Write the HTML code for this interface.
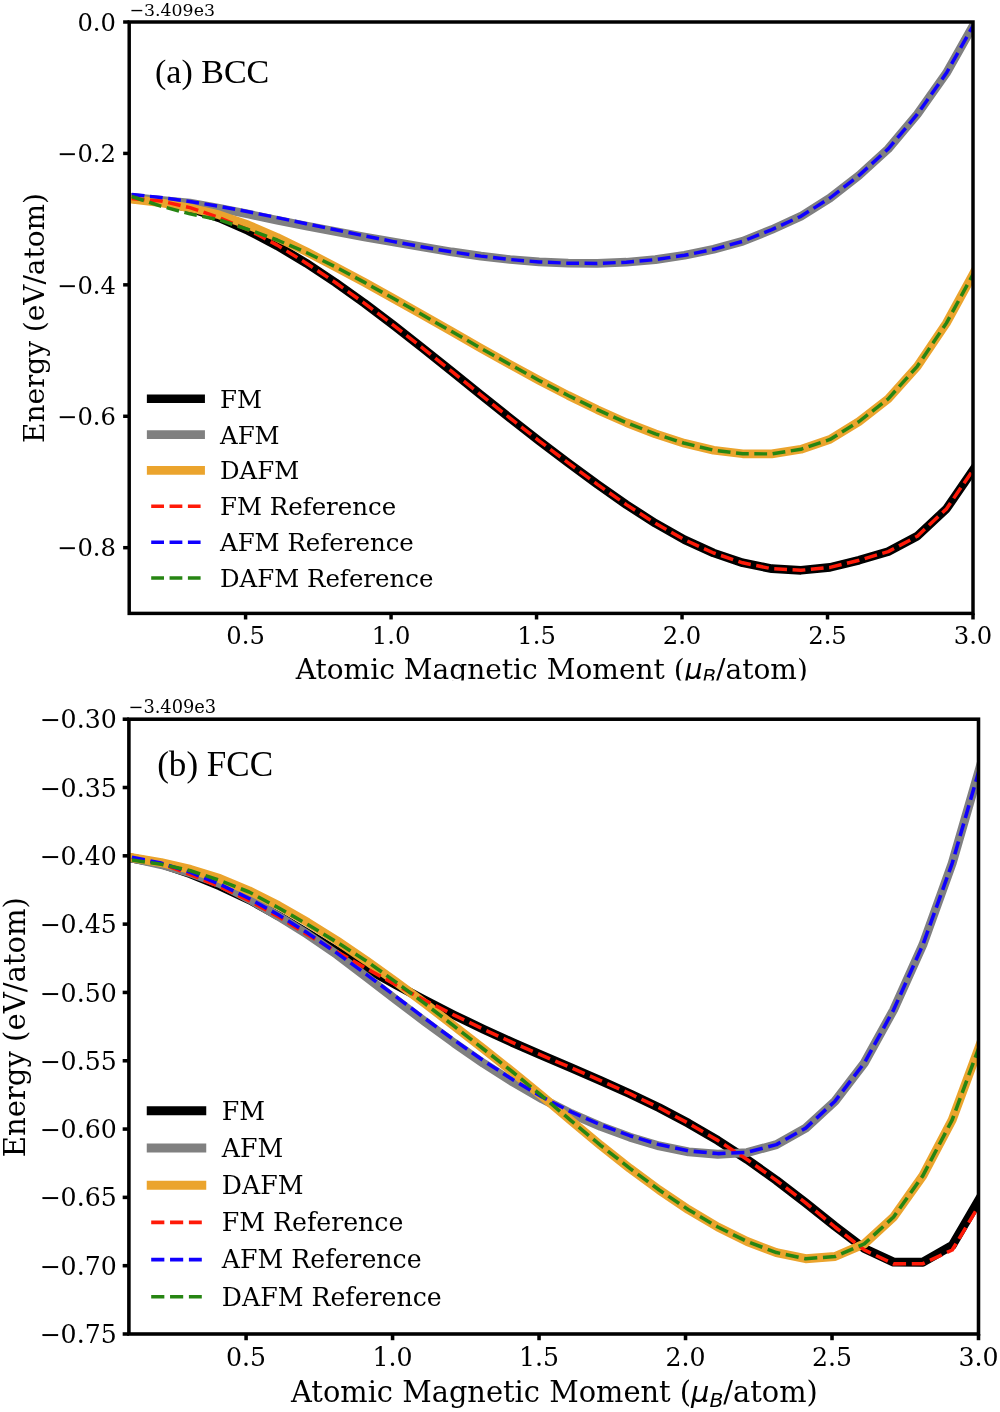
<!DOCTYPE html>
<html lang="en">
<head>
<meta charset="utf-8">
<title>Energy vs atomic magnetic moment: BCC and FCC</title>
<style>
html,body{margin:0;padding:0;background:#fff}
svg{display:block}
text{font-family:"DejaVu Serif","Liberation Serif",serif;fill:#000}
.ttl{font-family:"Liberation Serif","DejaVu Serif",serif}
</style>
</head>
<body>
<svg width="1000" height="1412" viewBox="0 0 1000 1412">
<defs>
<clipPath id="c1"><rect x="129.2" y="22.0" width="843.80" height="591.40"/></clipPath>
<clipPath id="c2"><rect x="128.9" y="719.2" width="849.60" height="614.80"/></clipPath>
</defs>
<rect width="1000" height="1412" fill="#fff"/>
<!-- panel (a) BCC -->
<g id="panel-a">
<g clip-path="url(#c1)" fill="none" stroke-linejoin="round">
<polyline points="131.7,198.6 160.8,201.5 189.9,208.1 219.0,217.9 248.1,230.6 277.2,245.8 306.3,263.2 335.4,282.5 364.5,303.3 393.6,325.3 422.7,348.1 451.8,371.4 480.9,394.9 510.0,418.1 539.1,440.8 568.2,462.9 597.3,484.3 626.3,504.6 655.4,523.3 684.5,539.7 713.6,553.0 742.7,562.8 771.8,568.7 800.9,570.3 830.0,567.4 859.1,560.2 888.2,551.6 917.3,536.2 946.4,508.9 975.5,466.5" stroke="#000000" stroke-width="8.67" stroke-linecap="square"/>
<polyline points="131.7,197.3 160.8,200.4 189.9,203.0 219.0,208.3 248.1,214.1 277.2,220.2 306.3,226.0 335.4,231.4 364.5,236.9 393.6,242.1 422.7,247.0 451.8,251.9 480.9,256.1 510.0,259.5 539.1,261.9 568.2,263.2 597.3,263.4 626.3,262.2 655.4,259.6 684.5,255.3 713.6,249.3 742.7,241.3 771.8,229.6 800.9,216.3 830.0,198.0 859.1,175.4 888.2,148.9 917.3,114.2 946.4,73.1 975.5,21.5" stroke="#808080" stroke-width="8.67" stroke-linecap="square"/>
<polyline points="131.7,199.1 160.8,202.7 189.9,207.9 219.0,214.8 248.1,224.9 277.2,237.5 306.3,251.7 335.4,266.8 364.5,282.4 393.6,298.6 422.7,315.0 451.8,331.6 480.9,348.2 510.0,364.5 539.1,380.4 568.2,395.5 597.3,409.7 626.3,422.6 655.4,433.9 684.5,443.3 713.6,450.2 742.7,453.8 771.8,453.9 800.9,449.3 830.0,439.4 859.1,421.5 888.2,398.9 917.3,366.3 946.4,323.1 975.5,269.8" stroke="#eba42d" stroke-width="8.67" stroke-linecap="square"/>
<polyline points="131.7,198.6 160.8,201.0 189.9,207.6 219.0,217.5 248.1,229.8 277.2,245.1 306.3,263.2 335.4,282.5 364.5,303.3 393.6,325.3 422.7,348.1 451.8,371.4 480.9,394.9 510.0,418.1 539.1,440.8 568.2,462.9 597.3,484.3 626.3,504.6 655.4,523.3 684.5,539.7 713.6,553.0 742.7,562.8 771.8,568.7 800.9,570.3 830.0,567.4 859.1,560.2 888.2,551.6 917.3,536.2 946.4,508.9 975.5,466.5" stroke="#ff1a08" stroke-width="3.47" stroke-dasharray="12.80 5.55"/>
<polyline points="131.7,194.5 160.8,197.5 189.9,201.5 219.0,206.3 248.1,211.7 277.2,217.6 306.3,223.7 335.4,229.8 364.5,235.9 393.6,241.6 422.7,247.0 451.8,251.9 480.9,256.1 510.0,259.5 539.1,261.9 568.2,263.2 597.3,263.4 626.3,262.2 655.4,259.6 684.5,255.3 713.6,249.3 742.7,241.3 771.8,229.6 800.9,216.3 830.0,198.0 859.1,175.4 888.2,148.9 917.3,114.2 946.4,73.1 975.5,21.5" stroke="#1000ff" stroke-width="3.47" stroke-dasharray="12.80 5.55"/>
<polyline points="131.7,196.5 160.8,206.1 189.9,213.9 219.0,219.8 248.1,229.5 277.2,240.0 306.3,252.5 335.4,266.8 364.5,282.4 393.6,298.6 422.7,315.0 451.8,331.6 480.9,348.2 510.0,364.5 539.1,380.4 568.2,395.5 597.3,409.7 626.3,422.6 655.4,433.9 684.5,443.3 713.6,450.2 742.7,453.8 771.8,453.9 800.9,449.3 830.0,439.4 859.1,421.5 888.2,398.9 917.3,366.3 946.4,323.1 975.5,269.8" stroke="#268512" stroke-width="3.47" stroke-dasharray="12.80 5.55"/>
</g>
<rect x="129.2" y="22.0" width="843.80" height="591.40" fill="none" stroke="#000" stroke-width="3.47"/>
<line x1="245.59" x2="245.59" y1="613.4" y2="619.47" stroke="#000" stroke-width="3.47"/>
<text x="245.59" y="644.30" font-size="24.26" text-anchor="middle">0.5</text>
<line x1="391.07" x2="391.07" y1="613.4" y2="619.47" stroke="#000" stroke-width="3.47"/>
<text x="391.07" y="644.30" font-size="24.26" text-anchor="middle">1.0</text>
<line x1="536.55" x2="536.55" y1="613.4" y2="619.47" stroke="#000" stroke-width="3.47"/>
<text x="536.55" y="644.30" font-size="24.26" text-anchor="middle">1.5</text>
<line x1="682.03" x2="682.03" y1="613.4" y2="619.47" stroke="#000" stroke-width="3.47"/>
<text x="682.03" y="644.30" font-size="24.26" text-anchor="middle">2.0</text>
<line x1="827.52" x2="827.52" y1="613.4" y2="619.47" stroke="#000" stroke-width="3.47"/>
<text x="827.52" y="644.30" font-size="24.26" text-anchor="middle">2.5</text>
<line x1="973.00" x2="973.00" y1="613.4" y2="619.47" stroke="#000" stroke-width="3.47"/>
<text x="973.00" y="644.30" font-size="24.26" text-anchor="middle">3.0</text>
<line x1="123.13" x2="129.2" y1="22.00" y2="22.00" stroke="#000" stroke-width="3.47"/>
<text x="116.00" y="30.80" font-size="24.26" text-anchor="end">0.0</text>
<line x1="123.13" x2="129.2" y1="153.42" y2="153.42" stroke="#000" stroke-width="3.47"/>
<text x="116.00" y="162.22" font-size="24.26" text-anchor="end">−0.2</text>
<line x1="123.13" x2="129.2" y1="284.84" y2="284.84" stroke="#000" stroke-width="3.47"/>
<text x="116.00" y="293.64" font-size="24.26" text-anchor="end">−0.4</text>
<line x1="123.13" x2="129.2" y1="416.27" y2="416.27" stroke="#000" stroke-width="3.47"/>
<text x="116.00" y="425.07" font-size="24.26" text-anchor="end">−0.6</text>
<line x1="123.13" x2="129.2" y1="547.69" y2="547.69" stroke="#000" stroke-width="3.47"/>
<text x="116.00" y="556.49" font-size="24.26" text-anchor="end">−0.8</text>
<text x="129.5" y="16.2" font-size="17.33">−3.409e3</text>
<text class="ttl" x="155.0" y="82.5" font-size="34.0">(a) BCC</text>
<line x1="151.2" x2="200.6" y1="398.75" y2="398.75" stroke="#000000" stroke-width="8.67" stroke-linecap="square"/>
<text x="220.0" y="407.75" font-size="24.45">FM</text>
<line x1="151.2" x2="200.6" y1="434.60" y2="434.60" stroke="#808080" stroke-width="8.67" stroke-linecap="square"/>
<text x="220.0" y="443.60" font-size="24.45">AFM</text>
<line x1="151.2" x2="200.6" y1="470.45" y2="470.45" stroke="#eba42d" stroke-width="8.67" stroke-linecap="square"/>
<text x="220.0" y="479.45" font-size="24.45">DAFM</text>
<line x1="151.2" x2="200.6" y1="506.30" y2="506.30" stroke="#ff1a08" stroke-width="3.47" stroke-dasharray="12.80 5.55"/>
<text x="220.0" y="515.30" font-size="24.45">FM Reference</text>
<line x1="151.2" x2="200.6" y1="542.15" y2="542.15" stroke="#1000ff" stroke-width="3.47" stroke-dasharray="12.80 5.55"/>
<text x="220.0" y="551.15" font-size="24.45">AFM Reference</text>
<line x1="151.2" x2="200.6" y1="578.00" y2="578.00" stroke="#268512" stroke-width="3.47" stroke-dasharray="12.80 5.55"/>
<text x="220.0" y="587.00" font-size="24.45">DAFM Reference</text>
<text transform="translate(44.4 318.0) rotate(-90)" font-size="27.95" text-anchor="middle">Energy (eV/atom)</text>
<text x="551.8" y="679.3" font-size="28.05" text-anchor="middle">Atomic Magnetic Moment (<tspan font-family="'DejaVu Sans', sans-serif" font-style="italic">μ</tspan><tspan font-family="'DejaVu Sans', sans-serif" font-style="italic" font-size="19.63" dy="3.93">B</tspan><tspan dy="-3.93">/atom)</tspan></text>
<rect x="0" y="680.5" width="1000" height="18" fill="#fff"/>
</g>
<!-- panel (b) FCC -->
<g id="panel-b">
<g clip-path="url(#c2)" fill="none" stroke-linejoin="round">
<polyline points="131.9,858.2 161.2,863.7 190.5,873.9 219.8,885.9 249.1,899.7 278.4,915.8 307.7,933.3 337.0,951.2 366.3,968.4 395.6,984.7 424.9,1000.3 454.1,1015.1 483.4,1029.2 512.7,1042.6 542.0,1055.4 571.3,1067.9 600.6,1080.6 629.9,1093.7 659.2,1107.8 688.5,1123.3 717.8,1140.4 747.1,1159.5 776.4,1180.4 805.7,1202.9 835.0,1226.3 864.3,1248.5 893.6,1262.1 922.9,1262.2 952.2,1245.4 981.5,1195.3" stroke="#000000" stroke-width="8.90" stroke-linecap="square"/>
<polyline points="131.9,858.1 161.2,864.6 190.5,873.1 219.8,883.5 249.1,899.0 278.4,916.3 307.7,934.6 337.0,954.6 366.3,976.9 395.6,999.5 424.9,1021.6 454.1,1043.0 483.4,1063.3 512.7,1081.9 542.0,1098.8 571.3,1113.7 600.6,1126.3 629.9,1137.2 659.2,1145.9 688.5,1151.9 717.8,1154.2 747.1,1152.6 776.4,1144.6 805.7,1128.1 835.0,1101.2 864.3,1063.0 893.6,1009.8 922.9,944.7 952.2,863.3 981.5,762.0" stroke="#808080" stroke-width="8.90" stroke-linecap="square"/>
<polyline points="131.9,857.7 161.2,862.7 190.5,869.4 219.8,878.6 249.1,890.8 278.4,905.5 307.7,922.4 337.0,940.8 366.3,960.7 395.6,981.6 424.9,1003.4 454.1,1025.9 483.4,1048.8 512.7,1072.0 542.0,1096.0 571.3,1120.9 600.6,1145.3 629.9,1168.4 659.2,1190.0 688.5,1209.7 717.8,1227.0 747.1,1241.5 776.4,1252.6 805.7,1258.7 835.0,1256.5 864.3,1243.9 893.6,1217.0 922.9,1175.6 952.2,1119.9 981.5,1040.6" stroke="#eba42d" stroke-width="8.90" stroke-linecap="square"/>
<polyline points="131.9,858.2 161.2,863.7 190.5,874.6 219.8,886.7 249.1,900.7 278.4,916.6 307.7,934.8 337.0,951.7 366.3,968.4 395.6,984.7 424.9,1000.3 454.1,1015.1 483.4,1029.2 512.7,1042.6 542.0,1055.4 571.3,1067.9 600.6,1080.6 629.9,1093.7 659.2,1107.8 688.5,1123.3 717.8,1140.4 747.1,1159.5 776.4,1180.4 805.7,1202.9 835.0,1227.0 864.3,1249.9 893.6,1263.9 922.9,1263.7 952.2,1250.0 981.5,1201.5" stroke="#ff1a08" stroke-width="3.56" stroke-dasharray="13.15 5.70"/>
<polyline points="131.9,857.3 161.2,863.1 190.5,872.3 219.8,884.3 249.1,898.5 278.4,914.8 307.7,933.1 337.0,953.1 366.3,974.4 395.6,996.3 424.9,1018.4 454.1,1040.0 483.4,1060.6 512.7,1079.6 542.0,1096.9 571.3,1111.9 600.6,1124.8 629.9,1135.7 659.2,1144.6 688.5,1150.9 717.8,1153.6 747.1,1152.3 776.4,1144.6 805.7,1128.1 835.0,1101.2 864.3,1063.0 893.6,1009.8 922.9,944.7 952.2,863.3 981.5,762.0" stroke="#1000ff" stroke-width="3.56" stroke-dasharray="13.15 5.70"/>
<polyline points="131.9,860.0 161.2,864.3 190.5,870.7 219.8,880.4 249.1,892.0 278.4,907.8 307.7,924.5 337.0,942.3 366.3,960.9 395.6,981.9 424.9,1003.6 454.1,1026.1 483.4,1049.0 512.7,1072.0 542.0,1096.0 571.3,1120.9 600.6,1145.3 629.9,1168.4 659.2,1190.0 688.5,1209.7 717.8,1227.0 747.1,1241.5 776.4,1252.6 805.7,1258.7 835.0,1256.5 864.3,1243.9 893.6,1217.0 922.9,1175.6 952.2,1119.9 981.5,1040.6" stroke="#268512" stroke-width="3.56" stroke-dasharray="13.15 5.70"/>
</g>
<rect x="128.9" y="719.2" width="849.60" height="614.80" fill="none" stroke="#000" stroke-width="3.56"/>
<line x1="246.09" x2="246.09" y1="1334.0" y2="1340.23" stroke="#000" stroke-width="3.56"/>
<text x="246.09" y="1365.80" font-size="25.2" text-anchor="middle">0.5</text>
<line x1="392.57" x2="392.57" y1="1334.0" y2="1340.23" stroke="#000" stroke-width="3.56"/>
<text x="392.57" y="1365.80" font-size="25.2" text-anchor="middle">1.0</text>
<line x1="539.05" x2="539.05" y1="1334.0" y2="1340.23" stroke="#000" stroke-width="3.56"/>
<text x="539.05" y="1365.80" font-size="25.2" text-anchor="middle">1.5</text>
<line x1="685.53" x2="685.53" y1="1334.0" y2="1340.23" stroke="#000" stroke-width="3.56"/>
<text x="685.53" y="1365.80" font-size="25.2" text-anchor="middle">2.0</text>
<line x1="832.02" x2="832.02" y1="1334.0" y2="1340.23" stroke="#000" stroke-width="3.56"/>
<text x="832.02" y="1365.80" font-size="25.2" text-anchor="middle">2.5</text>
<line x1="978.50" x2="978.50" y1="1334.0" y2="1340.23" stroke="#000" stroke-width="3.56"/>
<text x="978.50" y="1365.80" font-size="25.2" text-anchor="middle">3.0</text>
<line x1="122.67" x2="128.9" y1="719.20" y2="719.20" stroke="#000" stroke-width="3.56"/>
<text x="116.70" y="728.30" font-size="25.2" text-anchor="end">−0.30</text>
<line x1="122.67" x2="128.9" y1="787.51" y2="787.51" stroke="#000" stroke-width="3.56"/>
<text x="116.70" y="796.61" font-size="25.2" text-anchor="end">−0.35</text>
<line x1="122.67" x2="128.9" y1="855.82" y2="855.82" stroke="#000" stroke-width="3.56"/>
<text x="116.70" y="864.92" font-size="25.2" text-anchor="end">−0.40</text>
<line x1="122.67" x2="128.9" y1="924.13" y2="924.13" stroke="#000" stroke-width="3.56"/>
<text x="116.70" y="933.23" font-size="25.2" text-anchor="end">−0.45</text>
<line x1="122.67" x2="128.9" y1="992.44" y2="992.44" stroke="#000" stroke-width="3.56"/>
<text x="116.70" y="1001.54" font-size="25.2" text-anchor="end">−0.50</text>
<line x1="122.67" x2="128.9" y1="1060.76" y2="1060.76" stroke="#000" stroke-width="3.56"/>
<text x="116.70" y="1069.86" font-size="25.2" text-anchor="end">−0.55</text>
<line x1="122.67" x2="128.9" y1="1129.07" y2="1129.07" stroke="#000" stroke-width="3.56"/>
<text x="116.70" y="1138.17" font-size="25.2" text-anchor="end">−0.60</text>
<line x1="122.67" x2="128.9" y1="1197.38" y2="1197.38" stroke="#000" stroke-width="3.56"/>
<text x="116.70" y="1206.48" font-size="25.2" text-anchor="end">−0.65</text>
<line x1="122.67" x2="128.9" y1="1265.69" y2="1265.69" stroke="#000" stroke-width="3.56"/>
<text x="116.70" y="1274.79" font-size="25.2" text-anchor="end">−0.70</text>
<line x1="122.67" x2="128.9" y1="1334.00" y2="1334.00" stroke="#000" stroke-width="3.56"/>
<text x="116.70" y="1343.10" font-size="25.2" text-anchor="end">−0.75</text>
<text x="128.5" y="713.4" font-size="17.8">−3.409e3</text>
<text class="ttl" x="157.2" y="776.4" font-size="35.1">(b) FCC</text>
<line x1="151.2" x2="201.8" y1="1110.80" y2="1110.80" stroke="#000000" stroke-width="8.90" stroke-linecap="square"/>
<text x="221.8" y="1119.50" font-size="25.2">FM</text>
<line x1="151.2" x2="201.8" y1="1148.00" y2="1148.00" stroke="#808080" stroke-width="8.90" stroke-linecap="square"/>
<text x="221.8" y="1156.70" font-size="25.2">AFM</text>
<line x1="151.2" x2="201.8" y1="1185.20" y2="1185.20" stroke="#eba42d" stroke-width="8.90" stroke-linecap="square"/>
<text x="221.8" y="1193.90" font-size="25.2">DAFM</text>
<line x1="151.2" x2="201.8" y1="1222.40" y2="1222.40" stroke="#ff1a08" stroke-width="3.56" stroke-dasharray="13.15 5.70"/>
<text x="221.8" y="1231.10" font-size="25.2">FM Reference</text>
<line x1="151.2" x2="201.8" y1="1259.60" y2="1259.60" stroke="#1000ff" stroke-width="3.56" stroke-dasharray="13.15 5.70"/>
<text x="221.8" y="1268.30" font-size="25.2">AFM Reference</text>
<line x1="151.2" x2="201.8" y1="1296.80" y2="1296.80" stroke="#268512" stroke-width="3.56" stroke-dasharray="13.15 5.70"/>
<text x="221.8" y="1305.50" font-size="25.2">DAFM Reference</text>
<text transform="translate(24.9 1027.2) rotate(-90)" font-size="29.1" text-anchor="middle">Energy (eV/atom)</text>
<text x="554.4" y="1402.0" font-size="28.85" text-anchor="middle">Atomic Magnetic Moment (<tspan font-family="'DejaVu Sans', sans-serif" font-style="italic">μ</tspan><tspan font-family="'DejaVu Sans', sans-serif" font-style="italic" font-size="20.20" dy="5.48">B</tspan><tspan dy="-5.48">/atom)</tspan></text>
</g>
</svg>
</body>
</html>
